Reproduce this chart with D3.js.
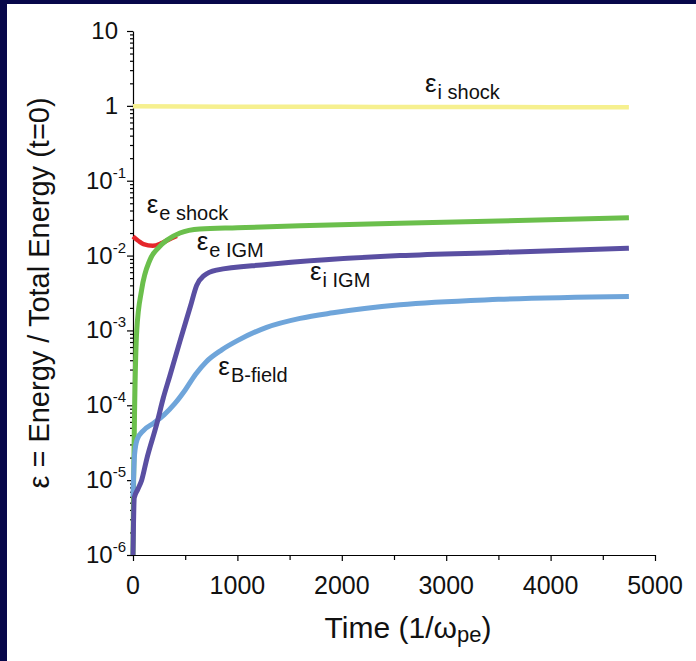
<!DOCTYPE html>
<html>
<head>
<meta charset="utf-8">
<script src="https://cdn.jsdelivr.net/npm/d3@7/dist/d3.min.js"></script>
<style>
body { margin: 0; background: #ffffff; }
</style>
</head>
<body>
<script>
var border_col = "#07074a";
var axis_col = "#000000";
var text_col = "#111111";
var font_fam = "'Liberation Sans', Arial, Helvetica, sans-serif";

// ticks
var yTicks = [10, 1, 0.1, 0.01, 1e-3, 1e-4, 1e-5, 1e-6];
var yTickBase = ["10", "1", "10", "10", "10", "10", "10", "10"];
var yTickExp = ["", "", "-1", "-2", "-3", "-4", "-5", "-6"];
var xTicks = [0, 1000, 2000, 3000, 4000, 5000];
var xMinorTicks = [500, 1500, 2500, 3500, 4500];

// series (time in 1/w_pe, energy fraction)
var iShockT = [0, 500, 1000, 2000, 3000, 4000, 4750];
var iShockV = [0.99, 0.98, 0.975, 0.97, 0.965, 0.96, 0.955];

var eShockT = [0, 50, 100, 190, 280, 370, 420];
var eShockV = [0.018, 0.0158, 0.0142, 0.0135, 0.0148, 0.0170, 0.0183];

var eIgmT = [0, 6, 16, 36, 83, 163, 250, 323, 450, 640, 1000, 1600, 2557, 3500, 4750];
var eIgmV = [1e-6, 1e-5, 1e-4, 1e-3, 3.5e-3, 8.8e-3, 0.013, 0.016, 0.0200, 0.0226, 0.0235, 0.025, 0.027, 0.029, 0.032];

var iIgmT = [0, 12, 45, 83, 131, 227, 290, 354, 450, 550, 610, 680, 800, 1280, 2557, 3500, 4750];
var iIgmV = [1e-6, 5.8e-6, 7.5e-6, 1e-5, 1.9e-5, 5.6e-5, 1.25e-4, 2.5e-4, 7.2e-4, 2.1e-3, 4.0e-3, 5.4e-3, 6.4e-3, 7.6e-3, 0.010, 0.011, 0.0125];

var bFieldT = [0, 15, 40, 100, 200, 300, 400, 500, 600, 700, 850, 1000, 1280, 1600, 1916, 2557, 3500, 4750];
var bFieldV = [6e-6, 2.2e-5, 3.5e-5, 4.6e-5, 5.8e-5, 7.5e-5, 1.05e-4, 1.6e-4, 2.6e-4, 3.8e-4, 5.5e-4, 7.3e-4, 1.1e-3, 1.45e-3, 1.72e-3, 2.2e-3, 2.6e-3, 2.85e-3];

// curve labels: name, subscript, anchor (t, v)
var labelMain = ["\u03b5", "\u03b5", "\u03b5", "\u03b5", "\u03b5"];
var labelSub = ["i shock", "e shock", "e IGM", "i IGM", "B-field"];
var labelT = [2797, 131, 610, 1695, 817];
var labelV = [1.54, 0.0369, 0.0117, 0.00475, 2.56e-4];

// Margin
var margin = { top: 31, right: 41, bottom: 106, left: 133 },
	width = 696 - margin.left - margin.right,
	height = 661 - margin.top - margin.bottom;

var svgRoot = d3.select("body").append("svg")
	.attr("width", 696)
	.attr("height", 661)
	.style("display", "block")
	.style("font-family", font_fam);

// dark frame
svgRoot.append("rect").attr("x", 0).attr("y", 0).attr("width", 7).attr("height", 661).style("fill", border_col);
svgRoot.append("rect").attr("x", 0).attr("y", 0).attr("width", 696).attr("height", 4).style("fill", border_col);

var svg = svgRoot.append("g")
	.attr("transform", "translate(" + margin.left + "," + margin.top + ")");

var x = d3.scaleLinear().domain([0, 5000]).range([0, width]);
var y = d3.scaleLog().domain([1e-6, 10]).range([height, 0]);

// y minor ticks
var yMinor = [];
yTicks.forEach(function (d) {
	if (d < 10) {
		for (var k = 2; k <= 9; k++) yMinor.push(d * k);
	}
});

svg.append("g")
	.call(d3.axisLeft(y).tickValues(yMinor).tickSize(3).tickSizeOuter(0).tickFormat(""))
	.call(function (g) { g.select(".domain").remove(); });

svg.append("g")
	.attr("class", "yaxis")
	.call(d3.axisLeft(y).tickValues(yTicks).tickSize(6).tickSizeOuter(0).tickFormat(""));

// x axis
svg.append("g")
	.attr("transform", "translate(0," + height + ")")
	.call(d3.axisBottom(x).tickValues(xMinorTicks).tickSize(5).tickSizeOuter(0).tickFormat(""))
	.call(function (g) { g.select(".domain").remove(); });

svg.append("g")
	.attr("class", "xaxis")
	.attr("transform", "translate(0," + height + ")")
	.call(d3.axisBottom(x).tickValues(xTicks).tickSize(6).tickSizeOuter(0).tickFormat(""));

svg.selectAll(".domain, .tick line").style("stroke", axis_col).style("stroke-width", 1.2);

// x tick labels
svg.selectAll("text.xlab")
	.data(xTicks)
	.enter().append("text")
	.attr("class", "xlab")
	.attr("x", function (d) { return x(d); })
	.attr("y", height + 39)
	.attr("text-anchor", "middle")
	.style("font-size", "25px")
	.style("fill", text_col)
	.text(function (d) { return d; });

// y tick labels (10 with superscript)
var ylab = svg.selectAll("text.ylab")
	.data(yTicks)
	.enter().append("text")
	.attr("class", "ylab")
	.attr("x", function (d, i) { return yTickExp[i] ? -7 : -15; })
	.attr("y", function (d) { return y(d) + 8; })
	.attr("text-anchor", "end")
	.style("font-size", "24px")
	.style("fill", text_col);

ylab.append("tspan").text(function (d, i) { return yTickBase[i]; });
ylab.append("tspan")
	.attr("dy", -11)
	.style("font-size", "15px")
	.text(function (d, i) { return yTickExp[i]; });

// axis titles
var xt = svg.append("text")
	.attr("x", 275)
	.attr("y", height + 83)
	.attr("text-anchor", "middle")
	.style("font-size", "30px")
	.style("fill", text_col);
xt.append("tspan").text("Time (1/\u03c9");
xt.append("tspan").attr("dy", 4).style("font-size", "22px").text("pe");
xt.append("tspan").attr("dy", -4).text(")");

svgRoot.append("text")
	.attr("transform", "translate(49,293) rotate(-90)")
	.attr("text-anchor", "middle")
	.style("font-size", "29px")
	.style("fill", text_col)
	.text("\u03b5 = Energy / Total Energy (t=0)");

// lines
var line = d3.line()
	.x(function (d) { return x(d[0]); })
	.y(function (d) { return y(d[1]); })
	.curve(d3.curveMonotoneX);

function pairs(t, v) { return t.map(function (d, i) { return [d, v[i]]; }); }

var series = [
	{ data: pairs(eShockT, eShockV), col: "#e5262b", w: 4.5 },
	{ data: pairs(eIgmT, eIgmV), col: "#6bbf4c", w: 5 },
	{ data: pairs(bFieldT, bFieldV), col: "#6fa5da", w: 5 },
	{ data: pairs(iIgmT, iIgmV), col: "#5a4fa2", w: 5 },
	{ data: pairs(iShockT, iShockV), col: "#f6f08f", w: 4.5 }
];

svg.selectAll("path.series")
	.data(series)
	.enter().append("path")
	.attr("class", "series")
	.attr("d", function (d) { return line(d.data); })
	.style("fill", "none")
	.style("stroke", function (d) { return d.col; })
	.style("stroke-width", function (d) { return d.w; });

// curve labels
var lab = svg.selectAll("text.curvelab")
	.data(labelSub)
	.enter().append("text")
	.attr("class", "curvelab")
	.attr("x", function (d, i) { return x(labelT[i]); })
	.attr("y", function (d, i) { return y(labelV[i]); })
	.style("font-size", "26px")
	.style("fill", text_col);

lab.append("tspan").text(function (d, i) { return labelMain[i]; });
lab.append("tspan")
	.attr("dy", 7)
	.attr("dx", 1)
	.style("font-size", "20px")
	.text(function (d) { return d; });
</script>
</body>
</html>
